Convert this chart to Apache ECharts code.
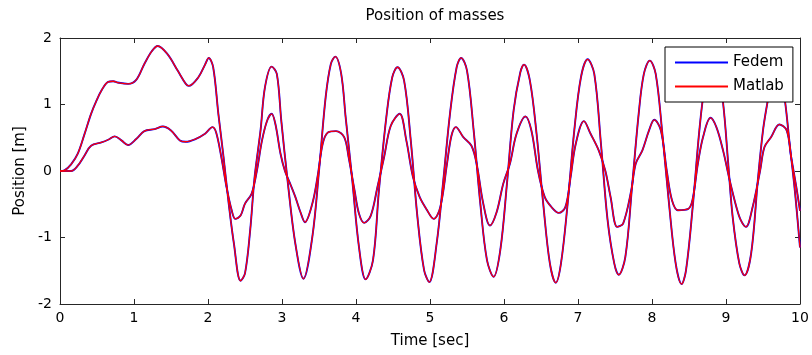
<!DOCTYPE html>
<html>
<head>
<meta charset="utf-8">
<script src="https://cdn.jsdelivr.net/npm/echarts@6/dist/echarts.min.js"></script>
<style>html,body{margin:0;padding:0;background:#fff}#c{width:812px;height:355px}</style>
</head>
<body>
<div id="c"></div>
<script>
// Mass 1 (large amplitude)
const timeA = [0,0.06,0.15,0.24,0.33,0.42,0.49,0.56,0.65,0.72,0.78,0.92,1.03,1.14,1.24,1.32,1.45,1.59,1.70,1.74,1.87,1.96,2.01,2.07,2.14,2.21,2.28,2.35,2.44,2.50,2.57,2.63,2.71,2.77,2.86,2.93,2.99,3.08,3.18,3.29,3.41,3.50,3.59,3.66,3.72,3.80,3.86,3.95,4.04,4.13,4.23,4.31,4.41,4.49,4.56,4.65,4.74,4.83,4.92,4.99,5.09,5.18,5.27,5.36,5.42,5.50,5.59,5.68,5.77,5.86,5.95,6.04,6.13,6.22,6.27,6.35,6.44,6.53,6.62,6.70,6.77,6.86,6.95,7.04,7.13,7.22,7.31,7.40,7.49,7.55,7.64,7.73,7.82,7.89,7.97,8.05,8.14,8.23,8.32,8.40,8.46,8.55,8.64,8.71,8.80,8.88,8.96,9.03,9.09,9.18,9.25,9.34,9.43,9.50,9.56,9.65,9.72,9.80,9.86,9.93,10.0];
const massA = [0,0.01,0.1,0.26,0.55,0.86,1.05,1.21,1.34,1.35,1.33,1.31,1.37,1.61,1.80,1.88,1.76,1.51,1.31,1.28,1.41,1.60,1.70,1.56,0.86,0.21,-0.49,-1.09,-1.65,-1.54,-0.89,-0.09,0.61,1.26,1.57,1.46,0.76,-0.19,-1.09,-1.62,-0.99,0,1.11,1.61,1.72,1.46,0.81,-0.14,-1.14,-1.63,-1.34,-0.29,0.81,1.41,1.56,1.36,0.46,-0.69,-1.49,-1.67,-1.09,-0.14,0.86,1.56,1.70,1.51,0.61,-0.49,-1.34,-1.59,-1.19,-0.19,0.91,1.48,1.60,1.36,0.56,-0.49,-1.39,-1.68,-1.39,-0.49,0.61,1.41,1.68,1.46,0.41,-0.74,-1.39,-1.56,-1.29,-0.24,0.86,1.46,1.66,1.46,0.56,-0.49,-1.39,-1.70,-1.49,-0.54,0.61,1.25,1.62,1.55,1.03,0.11,-0.69,-1.39,-1.57,-1.24,-0.14,0.61,1.03,1.55,1.60,1.03,0.41,-0.29,-1.15];
// Mass 2 (small amplitude)
const timeB = [0,0.15,0.24,0.33,0.42,0.56,0.65,0.74,0.83,0.92,1.03,1.14,1.28,1.39,1.50,1.62,1.70,1.83,1.96,2.06,2.11,2.18,2.25,2.32,2.37,2.44,2.50,2.59,2.66,2.73,2.80,2.86,2.91,2.98,3.04,3.11,3.18,3.25,3.31,3.41,3.48,3.55,3.62,3.73,3.84,3.90,3.98,4.04,4.11,4.20,4.29,4.38,4.47,4.59,4.68,4.77,4.86,4.95,5.05,5.14,5.23,5.29,5.35,5.45,5.56,5.63,5.72,5.81,5.90,5.99,6.08,6.17,6.29,6.37,6.46,6.55,6.64,6.74,6.83,6.90,6.97,7.08,7.17,7.28,7.37,7.44,7.53,7.61,7.72,7.78,7.87,7.96,8.03,8.12,8.20,8.27,8.35,8.49,8.55,8.62,8.69,8.79,8.87,8.96,9.05,9.14,9.20,9.27,9.36,9.46,9.52,9.61,9.72,9.82,9.88,9.95,10.0];
const massB = [0,0.0,0.08,0.23,0.38,0.43,0.47,0.52,0.46,0.39,0.48,0.60,0.63,0.67,0.61,0.46,0.44,0.48,0.56,0.66,0.58,0.21,-0.24,-0.59,-0.72,-0.67,-0.49,-0.34,0,0.46,0.76,0.86,0.71,0.26,0,-0.19,-0.39,-0.62,-0.77,-0.49,-0.09,0.41,0.58,0.60,0.51,0.21,-0.29,-0.64,-0.78,-0.67,-0.24,0.21,0.68,0.86,0.46,-0.09,-0.39,-0.57,-0.72,-0.54,0.11,0.53,0.66,0.51,0.38,0.11,-0.49,-0.82,-0.62,-0.19,0.11,0.56,0.82,0.61,0,-0.39,-0.54,-0.63,-0.54,-0.09,0.41,0.75,0.56,0.31,0,-0.39,-0.84,-0.79,-0.29,0.11,0.31,0.61,0.77,0.61,0,-0.44,-0.59,-0.57,-0.42,0.11,0.51,0.80,0.66,0.31,-0.14,-0.54,-0.74,-0.84,-0.54,0,0.36,0.51,0.70,0.61,0.21,-0.24,-0.6];
const xTicks = [0,1,2,3,4,5,6,7,8,9,10];
const yTicks = [-2,-1,0,1,2];
const seriesNames = ['Fedem','Matlab'];

const pairs = (t, v) => t.map((x, i) => [x, v[i]]);
const dA = pairs(timeA, massA), dB = pairs(timeB, massB);
const FONT = 'DejaVu Sans';
const axisCommon = () => ({
  type: 'value', splitLine: {show: false},
  axisLine: {show: true, onZero: false, lineStyle: {color: '#262626', width: 1}},
  axisTick: {show: true, inside: true, length: 5, lineStyle: {color: '#262626'}},
});
function line(name, data, color, width, z) {
  return {name, type: 'line', data, showSymbol: false, symbol: 'none', smooth: 0.35,
    lineStyle: {color, width}, itemStyle: {color}, z, animation: false, xAxisIndex: 0, yAxisIndex: 0};
}
const chart = echarts.init(document.getElementById('c'));
chart.setOption({
  animation: false,
  backgroundColor: '#fff',
  title: {text: 'Position of masses', left: 430, top: 4, textAlign: 'center',
    textStyle: {fontFamily: FONT, fontSize: 15, fontWeight: 'normal', color: '#000'}},
  grid: {left: 60, right: 12, top: 38, bottom: 51},
  legend: {show: true, orient: 'vertical', left: 665, top: 47, data: seriesNames,
    icon: 'path://M0,0H60V2H0Z', itemWidth: 53, itemHeight: 2, itemGap: 9,
    padding: [8, 9, 8, 10], backgroundColor: '#fff', borderColor: '#000', borderWidth: 1,
    textStyle: {fontFamily: FONT, fontSize: 15, color: '#000'}},
  xAxis: [
    Object.assign(axisCommon(), {min: 0, max: 10, interval: 1, position: 'bottom',
      name: 'Time [sec]', nameLocation: 'middle', nameGap: 30,
      nameTextStyle: {fontFamily: FONT, fontSize: 15, color: '#000'},
      axisLabel: {fontFamily: FONT, fontSize: 14, color: '#000', margin: 7,
        formatter: v => xTicks.includes(v) ? String(v) : ''}}),
    Object.assign(axisCommon(), {min: 0, max: 10, interval: 1, position: 'top', axisLabel: {show: false}})
  ],
  yAxis: [
    Object.assign(axisCommon(), {min: -2, max: 2, interval: 1, position: 'left',
      name: 'Position [m]', nameLocation: 'middle', nameGap: 30,
      nameTextStyle: {fontFamily: FONT, fontSize: 15, color: '#000'},
      axisLabel: {fontFamily: FONT, fontSize: 14, color: '#000', margin: 8,
        formatter: v => yTicks.includes(v) ? String(v) : ''}}),
    Object.assign(axisCommon(), {min: -2, max: 2, interval: 1, position: 'right', axisLabel: {show: false}})
  ],
  series: [
    line('Fedem', dA, '#0000ff', 1.9, 2),
    line('Fedem', dB, '#0000ff', 1.9, 2),
    line('Matlab', dA, '#ff0000', 1.3, 3),
    line('Matlab', dB, '#ff0000', 1.3, 3)
  ]
});
</script>
</body>
</html>
